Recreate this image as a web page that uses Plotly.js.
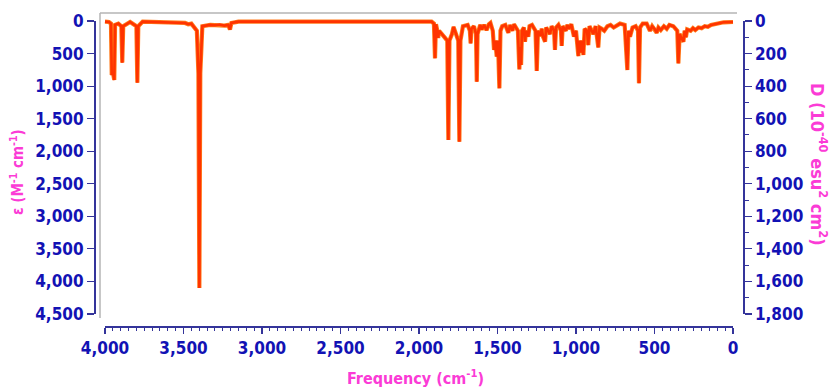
<!DOCTYPE html>
<html>
<head>
<meta charset="utf-8">
<script src="https://cdn.plot.ly/plotly-3.0.1.min.js"></script>
<style>html,body{margin:0;padding:0;background:#fff;}#chart{width:830px;height:387px;}</style>
</head>
<body>
<div id="chart"></div>
<script>
// Spectrum polyline: frequency (cm^-1) and epsilon (M^-1 cm^-1)
const freq = [4000,3975,3962,3957,3949,3941,3936,3915,3896,3890,3884,3840,3800,3794,3788,3760,
  3490,3470,3450,3415,3405,3399,3393,3383,3380,3330,3300,3270,3240,3215,3204,3195,3150,
  1920,1905,1898,1892,1884,1878,1872,1820,1813,1806,1790,1780,1750,1743,1736,1720,1690,
  1676,1671,1666,1650,1637,1632,1627,1610,1600,1585,1570,1555,1545,1530,1522,1514,1505,
  1497,1488,1481,1470,1450,1431,1420,1405,1395,1370,1361,1355,1350,1344,1332,1325,1318,
  1304,1296,1280,1258,1250,1242,1228,1218,1210,1197,1190,1166,1155,1140,1134,1127,1112,
  1096,1091,1085,1065,1055,1045,1030,1013,1000,985,978,970,962,953,945,930,922,914,890,
  875,858,850,836,820,800,780,760,740,720,690,673,666,656,640,620,605,599,592,575,550,
  529,515,500,486,475,460,440,422,405,380,355,348,340,330,316,308,300,292,270,255,240,
  220,200,180,160,140,120,100,60,0];
const eps = [10,15,40,830,800,906,60,40,80,640,80,15,80,948,80,10,
  30,50,40,150,800,4100,800,150,80,60,65,55,70,60,130,30,10,
  10,40,573,50,140,260,150,300,1828,300,200,90,300,1854,300,80,60,
  150,343,120,80,200,932,200,60,130,60,140,50,30,150,445,300,548,
  300,1034,150,80,60,180,60,150,50,150,742,400,676,150,100,318,150,
  240,80,60,150,768,150,230,120,240,318,100,200,80,150,445,100,60,
  150,384,80,150,60,120,50,240,150,538,300,486,300,522,120,150,369,80,200,
  80,405,100,120,150,80,60,100,70,40,60,753,150,240,100,80,150,957,100,40,40,
  150,80,120,180,100,140,80,120,60,80,150,650,200,250,318,150,250,130,150,110,140,
  100,110,80,90,60,50,30,20,15];

// Tick values
const xTicks = [4000,3500,3000,2500,2000,1500,1000,500,0];
const epsTicks = [0,500,1000,1500,2000,2500,3000,3500,4000,4500];
const dTicks = [0,200,400,600,800,1000,1200,1400,1600,1800];

const W = 830, H = 387;
// pixel geometry
const xL = 105, xR = 733;       // 4000 -> xL, 0 -> xR
const yT = 21, yB = 314;        // 0 -> yT, 4500 -> yB
const frameL = 100, frameR = 737, frameT = 13, frameB = 318;

const fAt = px => 4000 - (px - xL) * 4000 / (xR - xL);
const eAt = py => (py - yT) * 4500 / (yB - yT);
const px2 = px => px / W;
const py2 = py => 1 - py / H;

const axisBlue = '#34349a';
const labelBlue = '#1212b4';
const magenta = '#fb3bd6';
const fam = 'DejaVu Sans Condensed, DejaVu Sans, sans-serif';
const tickFont = {family: fam, size: 17, color: labelBlue, weight: 'bold'};

const traces = [
  {x: freq, y: eps, xaxis: 'x', yaxis: 'y', mode: 'lines', line: {color: '#ff7a1a', width: 4.2}, hoverinfo: 'skip', showlegend: false},
  {x: freq, y: eps, xaxis: 'x', yaxis: 'y', mode: 'lines', line: {color: '#ff3300', width: 2.6}, hoverinfo: 'skip', showlegend: false},
  {x: [xTicks[0]], y: [epsTicks[0]], xaxis: 'x2', yaxis: 'y2', mode: 'markers', marker: {opacity: 0}, hoverinfo: 'skip', showlegend: false},
  {x: [xTicks[0]], y: [dTicks[0]], xaxis: 'x2', yaxis: 'y3', mode: 'markers', marker: {opacity: 0}, hoverinfo: 'skip', showlegend: false}
];

const hidden = {visible: false, showgrid: false, zeroline: false, fixedrange: true};

const layout = {
  width: W, height: H,
  margin: {l: 0, r: 0, t: 0, b: 0, pad: 0},
  paper_bgcolor: '#ffffff', plot_bgcolor: 'rgba(0,0,0,0)',
  showlegend: false,
  xaxis: Object.assign({domain: [px2(frameL), px2(frameR)], range: [fAt(frameL), fAt(frameR)], anchor: 'y'}, hidden),
  yaxis: Object.assign({domain: [py2(frameB), py2(frameT)], range: [eAt(frameB), eAt(frameT)], anchor: 'x'}, hidden),
  xaxis2: {
    domain: [px2(xL), px2(xR)], range: [xTicks[0], xTicks[xTicks.length - 1]],
    anchor: 'free', position: py2(326), side: 'bottom',
    showgrid: false, zeroline: false, showline: true, linecolor: axisBlue, linewidth: 1.5,
    tickmode: 'array', tickvals: xTicks, ticktext: xTicks.map(v => v.toLocaleString('en-US')),
    ticks: 'outside', ticklen: 6, tickwidth: 1.2, tickcolor: axisBlue,
    minor: {dtick: 50, ticks: 'outside', ticklen: 3, tickwidth: 1, tickcolor: axisBlue, showgrid: false},
    tickfont: tickFont, fixedrange: true
  },
  yaxis2: {
    domain: [py2(yB), py2(yT)], range: [epsTicks[epsTicks.length - 1], epsTicks[0]],
    anchor: 'free', position: px2(94), side: 'left',
    showgrid: false, zeroline: false, showline: true, linecolor: axisBlue, linewidth: 1.5,
    tickmode: 'array', tickvals: epsTicks, ticktext: epsTicks.map(v => v.toLocaleString('en-US')),
    ticks: 'outside', ticklen: 7, tickwidth: 1.2, tickcolor: axisBlue,
    tickfont: tickFont, fixedrange: true
  },
  yaxis3: {
    domain: [py2(yB), py2(yT)], range: [dTicks[dTicks.length - 1], dTicks[0]],
    anchor: 'free', position: px2(743), side: 'right', overlaying: 'y2',
    showgrid: false, zeroline: false, showline: true, linecolor: axisBlue, linewidth: 1.5,
    tickmode: 'array', tickvals: dTicks, ticktext: dTicks.map(v => v.toLocaleString('en-US')),
    ticks: 'outside', ticklen: 7, tickwidth: 1.2, tickcolor: axisBlue,
    minor: {dtick: 100, ticks: 'outside', ticklen: 4, tickwidth: 1, tickcolor: axisBlue, showgrid: false},
    tickfont: tickFont, fixedrange: true
  },
  shapes: [
    {type: 'line', xref: 'paper', yref: 'paper', x0: px2(frameL), x1: px2(frameR), y0: py2(frameT), y1: py2(frameT), line: {color: '#b4b4b4', width: 1.5}},
    {type: 'line', xref: 'paper', yref: 'paper', x0: px2(frameL), x1: px2(frameL), y0: py2(frameT), y1: py2(frameB), line: {color: '#b4b4b4', width: 1.5}}
  ],
  annotations: [
    {text: 'Frequency (cm<sup>-1</sup>)', xref: 'paper', yref: 'paper', x: px2(415), y: py2(377), xanchor: 'center', yanchor: 'middle', showarrow: false,
     font: {family: fam, size: 16, color: magenta, weight: 'bold'}},
    {text: 'ε (M<sup>-1</sup> cm<sup>-1</sup>)', xref: 'paper', yref: 'paper', x: px2(17), y: py2(172), xanchor: 'center', yanchor: 'middle', showarrow: false, textangle: -90,
     font: {family: fam, size: 15, color: magenta, weight: 'bold'}},
    {text: 'D (10<sup>-40</sup> esu<sup>2</sup> cm<sup>2</sup>)', xref: 'paper', yref: 'paper', x: px2(819), y: py2(164), xanchor: 'center', yanchor: 'middle', showarrow: false, textangle: 90,
     font: {family: fam, size: 18, color: magenta, weight: 'bold'}}
  ]
};

Plotly.newPlot('chart', traces, layout, {displayModeBar: false, staticPlot: true});
</script>
</body>
</html>
